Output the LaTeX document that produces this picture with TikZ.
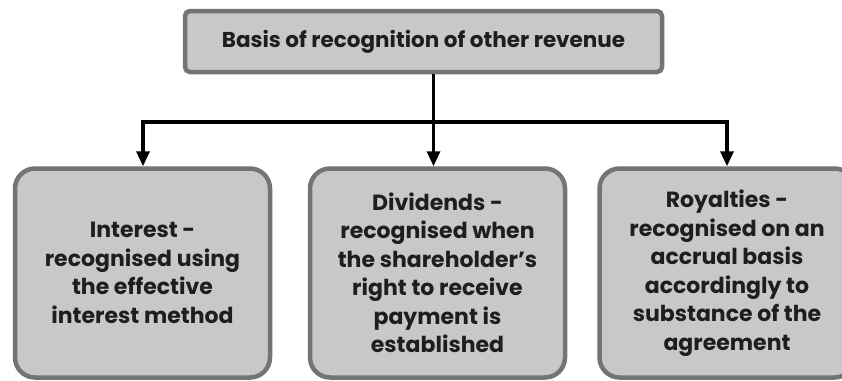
\documentclass[tikz,border=0pt]{standalone}
\usepackage{fontspec}
\setmainfont{Poppins}
\usetikzlibrary{arrows.meta}
\definecolor{boxfill}{HTML}{C8C8CA}
\definecolor{boxline}{HTML}{747476}
\definecolor{ink}{HTML}{1E1E1E}
\begin{document}
\begin{tikzpicture}[x=1pt,y=-1pt,
  box/.style={draw=boxline, fill=boxfill, line width=4.5pt, text=ink,
    font=\bfseries, align=center, inner sep=0pt},
  topbox/.style={box, rounded corners=5pt, minimum width=477pt, minimum height=61pt,
    font=\bfseries\fontsize{21.5}{25}\selectfont},
  subbox/.style={box, rounded corners=20pt, minimum width=255pt, minimum height=209pt,
    font=\bfseries\fontsize{22}{28.5}\selectfont},
  link/.style={line width=3.4pt, draw=black},
  tip/.style={-{Triangle[length=15pt,width=13pt]}}]
\useasboundingbox (0,0) rectangle (842,380);
\fill[white] (0,0) rectangle (842,380);
\node[topbox] (top) at (423.5,41.5) {Basis of recognition of other revenue};
\node[subbox] (b1) at (142.5,273) {Interest -\\recognised using\\the effective\\interest method};
\node[subbox] (b2) at (437.5,273) {Dividends -\\recognised when\\the shareholder’s\\right to receive\\payment is\\established};
\node[subbox] (b3) at (727,273) {Royalties -\\recognised on an\\accrual basis\\accordingly to\\substance of the\\agreement};
\coordinate (j) at (433.5,122);
\coordinate (l) at (143,122);
\coordinate (r) at (727,122);
\draw[link] (top.south -| j) -- (j);
\draw[link, line width=4pt, line cap=rect] (l) -- (r);
\draw[link,tip] (l) -- (l |- b1.north);
\draw[link,tip] (j) -- (j |- b2.north);
\draw[link,tip] (r) -- (r |- b3.north);
\end{tikzpicture}
\end{document}
